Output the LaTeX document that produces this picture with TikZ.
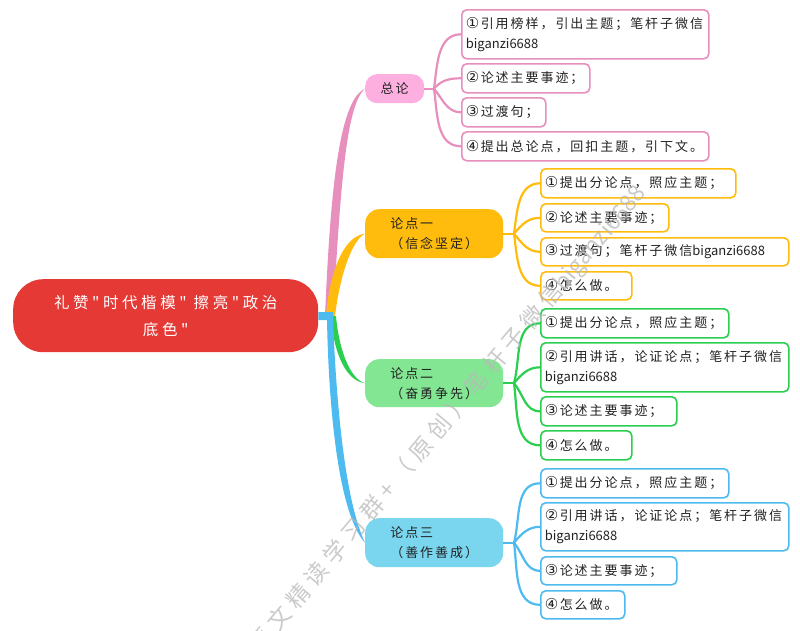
\documentclass[tikz,border=0pt]{standalone}
\usepackage{fontspec}
\setmainfont[LetterSpace=15,Ligatures=TeXOff]{Noto Sans CJK SC}
\newfontfamily\latfont[Ligatures=TeXOff]{Noto Sans CJK SC}
\newfontfamily\wmfont[LetterSpace=25,Ligatures=TeXOff]{Noto Sans CJK SC}
\newfontfamily\rootfont[LetterSpace=23,Ligatures=TeXOff]{Noto Sans CJK SC}
\newfontfamily\cifont{DejaVu Sans}
\newcommand{\lat}[1]{{\latfont #1}}
\newcommand{\ci}[1]{\makebox[15pt][l]{\cifont\fontsize{15}{20}\selectfont #1}}
\definecolor{pinkline}{HTML}{E78FBD}
\definecolor{pinkfill}{HTML}{FDB0DF}
\definecolor{yelline}{HTML}{FFBC0D}
\definecolor{greenline}{HTML}{2BCF50}
\definecolor{greenfill}{HTML}{82E693}
\definecolor{blueline}{HTML}{4DBBF0}
\definecolor{bluefill}{HTML}{7AD6EE}
\definecolor{rootred}{HTML}{E53935}
\definecolor{inkc}{HTML}{222222}
\tikzset{
  x=1pt,y=-1pt,
  leaf/.style 2 args={draw,line width=1.6pt,rounded corners=5pt,fill=white,anchor=north west,
    minimum width=#1,minimum height=#2,text width=#1-8pt,inner xsep=4pt,inner ysep=0pt,align=left,
    text=inkc,font=\fontsize{13}{20}\selectfont},
  branch/.style 2 args={draw=none,rounded corners=14pt,anchor=north west,minimum width=#1,minimum height=#2,
    inner sep=0pt,align=left,text=inkc,font=\fontsize{13}{20}\selectfont},
  sub/.style={line width=2.2pt},
  watermark/.style={rotate=50,text=gray!55,opacity=.75,font=\fontsize{23}{23}\wmfont,inner sep=0pt}
}
\begin{document}
\begin{tikzpicture}
\useasboundingbox (0,0) rectangle (800,630);
\clip (0,0) rectangle (800,630);
\fill[white] (0,0) rectangle (800,630);

% nodes
\node[draw=none,fill=rootred,rounded corners=30pt,anchor=north west,minimum width=305,minimum height=73,inner sep=0pt,
  align=center,text=white,font=\fontsize{15.5}{27}\rootfont] (root) at (13,279) {礼赞"时代楷模" 擦亮"政治\\底色"};
\coordinate (hub) at (330,316);

\node[branch={59}{29},fill=pinkfill,rounded corners=12pt,align=center] (z) at (365,74) {总论};
\node[branch={138}{49},fill=yelline] (a) at (365,209) {论点一\\（信念坚定）};
\node[branch={138}{48},fill=greenfill] (b) at (365,359) {论点二\\（奋勇争先）};
\node[branch={138}{49},fill=bluefill] (c) at (365,518) {论点三\\（善作善成）};

\node[leaf={247}{49},draw=pinkline] (z1) at (461,9) {\ci{①}引用榜样，引出主题；笔杆子微信\\\lat{biganzi6688}};
\node[leaf={128}{29},draw=pinkline] (z2) at (461,63) {\ci{②}论述主要事迹；};
\node[leaf={84}{29},draw=pinkline] (z3) at (461,97) {\ci{③}过渡句；};
\node[leaf={247}{29},draw=pinkline] (z4) at (461,131) {\ci{④}提出总论点，回扣主题，引下文。};

\node[leaf={195}{29},draw=yelline] (a1) at (540,168) {\ci{①}提出分论点，照应主题；};
\node[leaf={128}{28},draw=yelline] (a2) at (540,203) {\ci{②}论述主要事迹；};
\node[leaf={248}{28},draw=yelline] (a3) at (540,237) {\ci{③}过渡句；笔杆子微信\lat{biganzi6688}};
\node[leaf={91}{28},draw=yelline] (a4) at (540,271) {\ci{④}怎么做。};

\node[leaf={188}{29},draw=greenline] (b1) at (540,308) {\ci{①}提出分论点，照应主题；};
\node[leaf={248}{49},draw=greenline] (b2) at (540,342) {\ci{②}引用讲话，论证论点；笔杆子微信\\\lat{biganzi6688}};
\node[leaf={136}{29},draw=greenline] (b3) at (540,396) {\ci{③}论述主要事迹；};
\node[leaf={91}{29},draw=greenline] (b4) at (540,430) {\ci{④}怎么做。};

\node[leaf={188}{29},draw=blueline] (c1) at (540,468) {\ci{①}提出分论点，照应主题；};
\node[leaf={248}{48},draw=blueline] (c2) at (540,502) {\ci{②}引用讲话，论证论点；笔杆子微信\\\lat{biganzi6688}};
\node[leaf={136}{28},draw=blueline] (c3) at (540,556) {\ci{③}论述主要事迹；};
\node[leaf={84}{28},draw=blueline] (c4) at (540,590) {\ci{④}怎么做。};

% main tapered branches
\fill[pinkline] (325,316) .. controls (330,200) and (338,100) .. (z.west) .. controls (345,105) and (340,200) .. (333,316) -- cycle;
\fill[yelline] (326,316) .. controls (330,270) and (344,236) .. (a.west) .. controls (352,240) and (340,275) .. (335,316) -- cycle;
\fill[greenline] (331,316) .. controls (333,350) and (345,381) .. (b.west) .. controls (350,379) and (339,350) .. (336,316) -- cycle;
\fill[blueline] (root.east |- 0,312) -- (333,312) -- (333,320) .. controls (337,420) and (347,505) .. (c.west) .. controls (340,515) and (329,420) .. (327,320) -- (root.east |- 0,320) -- cycle;

% sub connectors
\foreach \p/\hb/\col/\aA/\aB/\aC/\aD in {z/434/pinkline/82/50/-50/-82,a/514/yelline/82/50/-50/-82,b/514/greenline/75/50/-50/-82,c/514/blueline/75/50/-50/-82}{
  \coordinate (\p hub) at (\hb,0 |- \p.east);
  \draw[sub,\col] (\p.east) -- (\p hub);
  \draw[sub,\col] (\p hub) to[out=\aA,in=180] (\p1.west);
  \draw[sub,\col] (\p hub) to[out=\aB,in=180] (\p2.west);
  \draw[sub,\col] (\p hub) to[out=\aC,in=180] (\p3.west);
  \draw[sub,\col] (\p hub) to[out=\aD,in=180] (\p4.west);
}

% watermark
\node[watermark,anchor=west] (wm) at (255,650) {语文精读学习群+（原创）笔杆子微信\lat{biganzi6688}};
\end{tikzpicture}
\end{document}
